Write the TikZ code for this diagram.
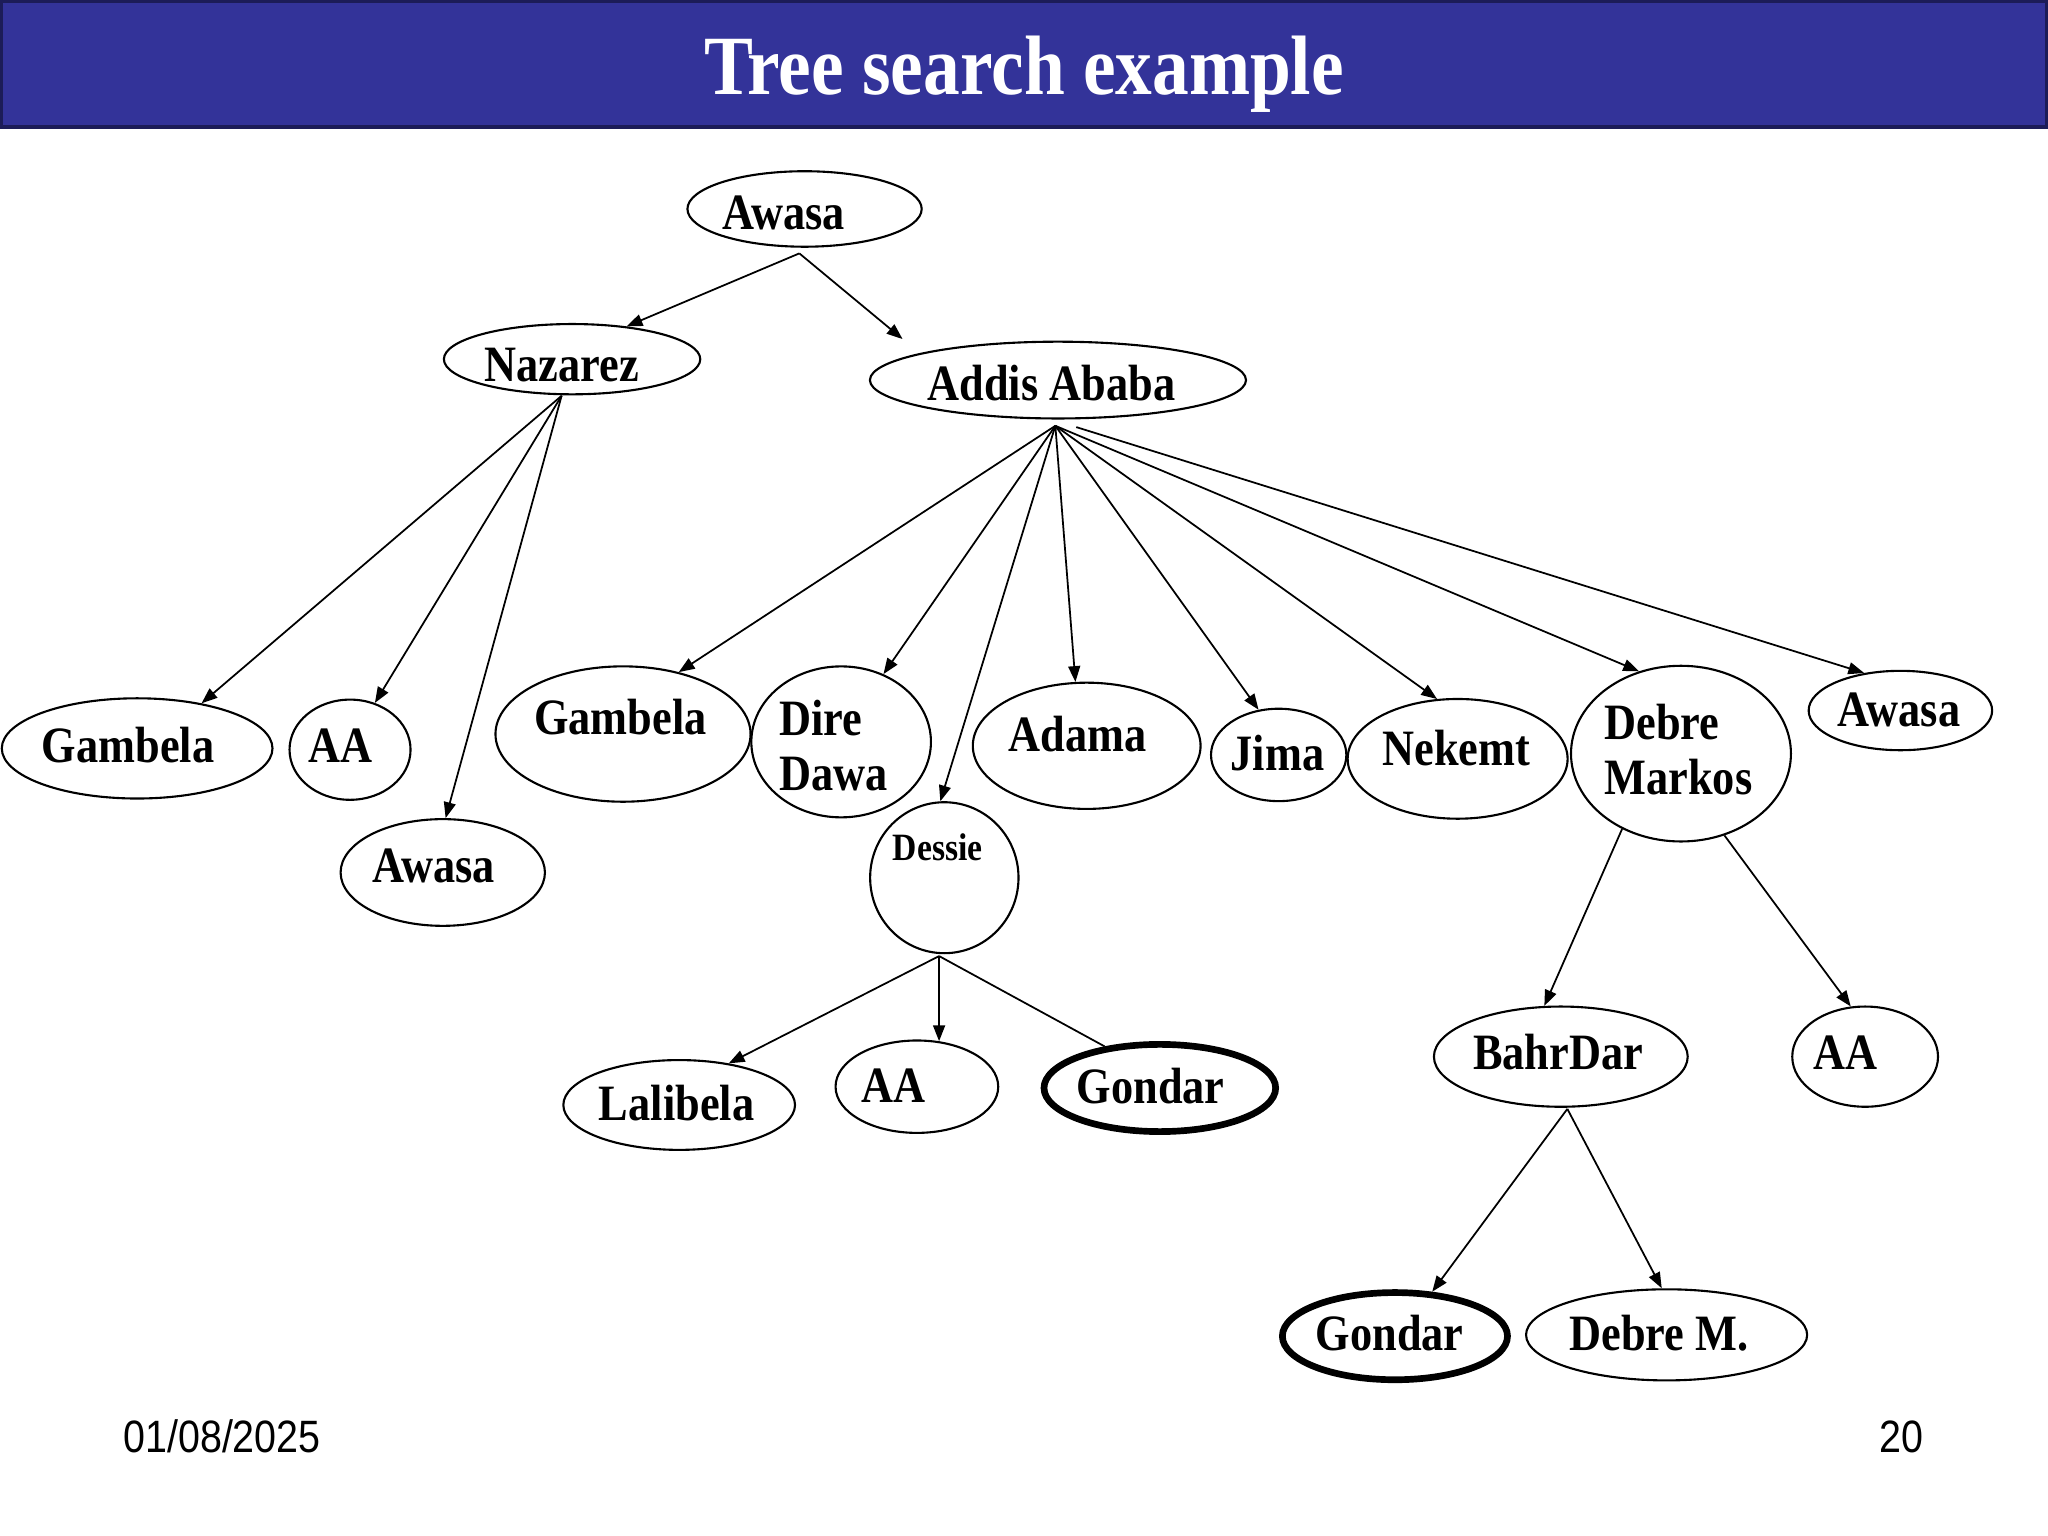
\documentclass[tikz,border=0pt]{standalone}
\usepackage{fontspec}
\setmainfont[FakeStretch=0.87]{Liberation Serif}
\setsansfont[FakeStretch=0.87]{Liberation Sans}
\usetikzlibrary{shapes.geometric,arrows.meta}
\definecolor{titleblue}{RGB}{51,51,153}
\definecolor{titleedge}{RGB}{28,28,88}
\begin{document}
\begin{tikzpicture}[x=0.013061cm,y=-0.013061cm,
  city/.style 2 args={ellipse,draw,line width=0.6pt,minimum width=#1*0.3703pt,minimum height=#2*0.3703pt,inner sep=0pt},
  goal/.style={line width=1.9pt},
  lbl/.style={font=\fontsize{14.5}{16}\selectfont\bfseries,inner sep=0pt,anchor=base},
  lbll/.style={lbl,anchor=base west},
  arr/.style={line width=0.5pt,-{Triangle[length=4.5pt,width=3.4pt]}},
  plainln/.style={line width=0.5pt}]
\useasboundingbox (0,0) rectangle (1568,1176);
\fill[white] (0,0) rectangle (1568,1176);
% title bar
\path[fill=titleblue,draw=titleedge,line width=1.2pt] (0.6,0.6) rectangle (1567.4,97);
\node[anchor=base,text=white,font=\fontsize{24}{28}\selectfont\bfseries,inner sep=0pt] (title) at (784,72) {Tree search example};
% footer
\node[anchor=base,font=\sffamily\fontsize{12.9}{15}\selectfont,inner sep=0pt] (date) at (170,1112) {01/08/2025};
\node[anchor=base,font=\sffamily\fontsize{12.9}{15}\selectfont,inner sep=0pt] (page) at (1456,1112) {20};
% ellipses
\node[city={180}{58}] (root) at (616,160) {};
\node[city={197}{54}] (naz) at (438,275) {};
\node[city={289}{59}] (addis) at (810,291) {};
\node[city={208}{77}] (gamL) at (105,573) {};
\node[city={93}{77}] (aaL) at (268,574) {};
\node[city={157}{82}] (awN) at (339,668) {};
\node[city={196}{104}] (gam2) at (477,562) {};
\node[city={138}{116}] (dire) at (644,568) {};
\node[city={175}{97}] (adama) at (832,571) {};
\node[city={114}{116}] (dessie) at (723,672) {};
\node[city={104}{71}] (jima) at (979,578) {};
\node[city={169}{92}] (nek) at (1116,581) {};
\node[city={169}{135}] (dm) at (1287,577) {};
\node[city={141}{61}] (awR) at (1455,544) {};
\node[city={178}{69}] (lal) at (520,846) {};
\node[city={125}{71}] (aaD) at (702,832) {};
\node[city={178}{67},goal] (gon1) at (888,833) {};
\node[city={195}{77}] (bahr) at (1195,809) {};
\node[city={112}{77}] (aaR) at (1428,809) {};
\node[city={173}{67},goal] (gon2) at (1068,1023) {};
\node[city={216}{70}] (dbm) at (1276,1022) {};
% labels
\node[lbl] (troot) at (600,176) {Awasa};
\node[lbl] (tnaz) at (430,292) {Nazarez};
\node[lbl] (taddis) at (805,307) {Addis Ababa};
\node[lbl] (tgamL) at (98,584) {Gambela};
\node[lbl] (taaL) at (261,584) {AA};
\node[lbl] (tawN) at (332,676) {Awasa};
\node[lbl] (tgam2) at (475,562) {Gambela};
\node[lbll] (tdire1) at (596,563) {Dire};
\node[lbll] (tdire2) at (596,605) {Dawa};
\node[lbl] (tadama) at (825,575) {Adama};
\node[lbl,font=\fontsize{11}{13}\selectfont\bfseries] (tdessie) at (718,659) {Dessie};
\node[lbl] (tjima) at (978,590) {Jima};
\node[lbl] (tnek) at (1115,586) {Nekemt};
\node[lbll] (tdm1) at (1228,566) {Debre};
\node[lbll] (tdm2) at (1228,608) {Markos};
\node[lbl] (tawR) at (1454,556) {Awasa};
\node[lbl] (tlal) at (518,858) {Lalibela};
\node[lbl] (taaD) at (684,844) {AA};
\node[lbl] (tgon1) at (881,845) {Gondar};
\node[lbl] (tbahr) at (1193,819) {BahrDar};
\node[lbl] (taaR) at (1413,819) {AA};
\node[lbl] (tgon2) at (1064,1034) {Gondar};
\node[lbl] (tdbm) at (1270,1034) {Debre M.};
% connectors
\coordinate (r0) at (612,194);
\coordinate (n0) at (430,303);
\coordinate (a0) at (808,326);
\coordinate (a1) at (824,327);
\coordinate (d0) at (719,732);
\coordinate (b0) at (1200,849);
\draw[arr] (r0) -- (naz.31);
\draw[arr,shorten >=6.3pt] (r0) -- (addis.169);
\draw[arr] (n0) -- (gamL.35);
\draw[arr] (n0) -- (aaL.62);
\draw[arr] (n0) -- (awN.87);
\draw[arr] (a0) -- (gam2.48);
\draw[arr] (a0) -- (dire.58);
\draw[arr] (a0) -- (dessie.93);
\draw[arr] (a0) -- (adama.100);
\draw[arr] (a0) -- (jima.114);
\draw[arr] (a0) -- (nek.109);
\draw[arr] (a0) -- (dm.117);
\draw[arr] (a1) -- (awR.134);
\draw[arr] (dm.232) -- (bahr.108);
\draw[arr] (dm.298) -- (aaR.106);
\draw[arr] (d0) -- (lal.40);
\draw[arr] (d0) -- (aaD.64);
\draw[plainln] (d0) -- (gon1.143);
\draw[arr] (b0) -- (gon2.50);
\draw[arr] (b0) -- (dbm.96);
\end{tikzpicture}
\end{document}
